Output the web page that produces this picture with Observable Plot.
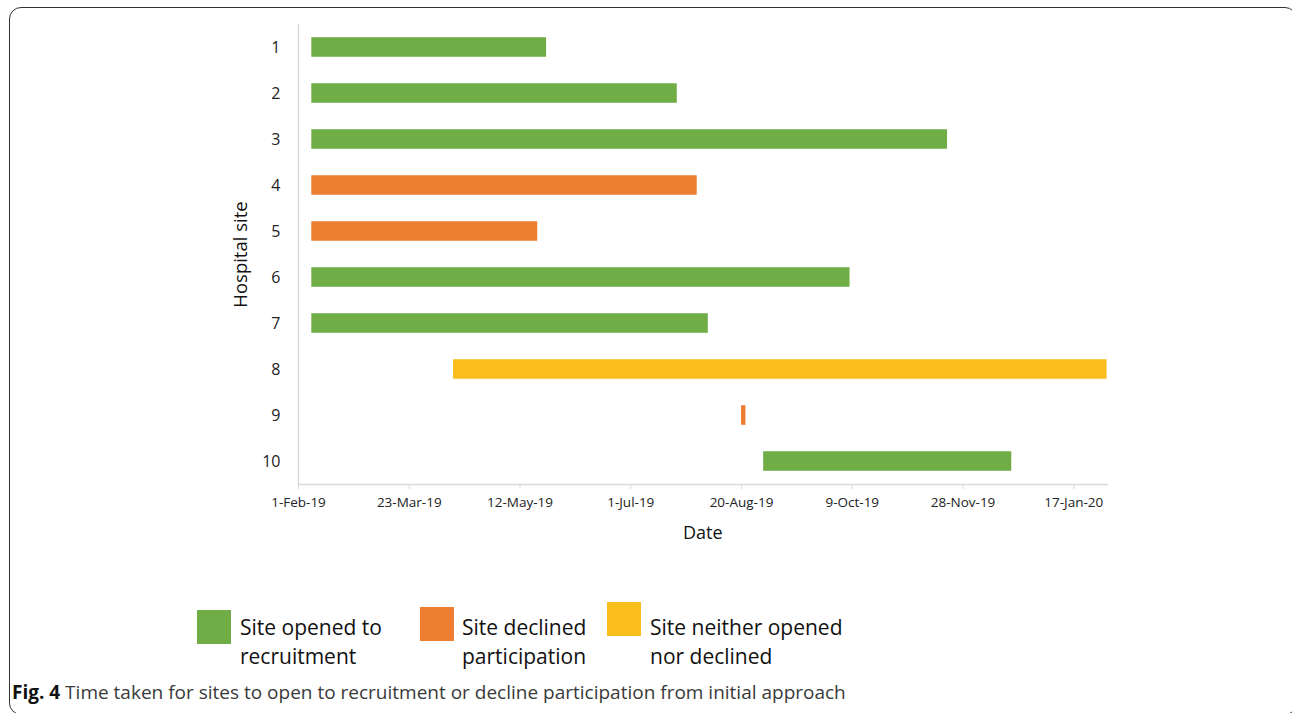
<!DOCTYPE html>
<html>
<head>
<meta charset="utf-8">
<script src="https://cdn.jsdelivr.net/npm/d3@7"></script>
<script src="https://cdn.jsdelivr.net/npm/@observablehq/plot@0.6"></script>
<style>
  html, body { margin: 0; padding: 0; background: #fff; overflow: hidden; }
  #page { position: relative; width: 1292px; height: 713px; font-family: "Open Sans", sans-serif; overflow: hidden; }
  #box { position: absolute; left: 9px; top: 7px; width: 1288px; height: 708px; border: 1.5px solid #333; border-radius: 12px; box-sizing: border-box; }
  #chart { position: absolute; left: 0; top: 0; }
  .sw { position: absolute; width: 34px; height: 34px; }
  .lt { position: absolute; font-size: 21px; line-height: 29px; color: #111; white-space: nowrap; }
  #caption { position: absolute; left: 12px; top: 679px; font-size: 19px; color: #3a3a3a; white-space: nowrap; }
  #caption b { color: #111; }
</style>
</head>
<body>
<div id="page">
  <div id="box"></div>
  <div id="chart"></div>
  <div id="legend"></div>
  <div id="caption"><b>Fig. 4</b> Time taken for sites to open to recruitment or decline participation from initial approach</div>
</div>
<script>
// ---- data ----
const sites   = ["1", "2", "3", "4", "5", "6", "7", "8", "9", "10"];
const starts  = ["2019-02-07", "2019-02-07", "2019-02-07", "2019-02-07", "2019-02-07", "2019-02-07", "2019-02-07", "2019-04-12", "2019-08-20", "2019-08-30"];
const ends    = ["2019-05-24", "2019-07-22", "2019-11-21", "2019-07-31", "2019-05-20", "2019-10-08", "2019-08-05", "2020-02-01", "2019-08-22", "2019-12-20"];
const status  = ["opened", "opened", "opened", "declined", "declined", "opened", "opened", "neither", "declined", "opened"];

const statusKeys   = ["opened", "declined", "neither"];
const statusLabels = ["Site opened to<br>recruitment", "Site declined<br>participation", "Site neither opened<br>nor declined"];
const statusColors = ["#70AD47", "#ED7D31", "#F9BE1C"];

const xDomain   = ["2019-02-01", "2020-02-01"];
const tickDates = ["2019-02-01", "2019-03-23", "2019-05-12", "2019-07-01", "2019-08-20", "2019-10-09", "2019-11-28", "2020-01-17"];

// ---- build ----
const parse = d3.utcParse("%Y-%m-%d");
const rows = sites.map((s, i) => ({site: s, start: parse(starts[i]), end: parse(ends[i]), status: status[i]}));
const fmt = d3.utcFormat("%-d-%b-%y");

const chart = Plot.plot({
  width: 1292,
  height: 560,
  marginLeft: 298,
  marginRight: 185.5,
  marginTop: 24,
  marginBottom: 76,
  style: {fontFamily: "Open Sans, sans-serif", fontSize: "13.5px", color: "#333", background: "transparent"},
  x: {type: "utc", domain: xDomain.map(parse)},
  y: {domain: sites, paddingInner: 0.575, paddingOuter: 0.2875, round: false},
  color: {domain: statusKeys, range: statusColors},
  marks: [
    Plot.barX(rows, {x1: "start", x2: "end", y: "site", fill: "status"}),
    Plot.ruleX([parse(xDomain[0])], {stroke: "#d9d9d9", strokeWidth: 1.5}),
    Plot.frame({anchor: "bottom", stroke: "#d9d9d9", strokeWidth: 1.5}),
    Plot.axisX({ticks: tickDates.map(parse), tickFormat: fmt, tickSize: 5, tickPadding: 8, stroke: "#d9d9d9", fill: "#222", fontSize: 13.5, label: null}),
    Plot.axisY({tickSize: 0, tickPadding: 18, fill: "#222", fontSize: 16, label: null}),
    Plot.text(["Date"], {frameAnchor: "bottom", dy: 49, lineAnchor: "middle", fontSize: 18, fill: "#111"}),
    Plot.text(["Hospital site"], {frameAnchor: "left", dx: -57, rotate: -90, textAnchor: "middle", lineAnchor: "middle", fontSize: 18.5, fill: "#111"})
  ]
});
document.getElementById("chart").appendChild(chart);

// ---- legend ----
const legend = document.getElementById("legend");
const swX = [197, 420, 607], swY = [610, 607, 602], txX = [240, 462, 650];
statusKeys.forEach((k, i) => {
  const sw = document.createElement("div");
  sw.className = "sw";
  sw.style.left = swX[i] + "px";
  sw.style.top = swY[i] + "px";
  sw.style.background = statusColors[i];
  legend.appendChild(sw);
  const t = document.createElement("div");
  t.className = "lt";
  t.style.left = txX[i] + "px";
  t.style.top = "613px";
  t.innerHTML = statusLabels[i];
  legend.appendChild(t);
});
</script>
</body>
</html>
